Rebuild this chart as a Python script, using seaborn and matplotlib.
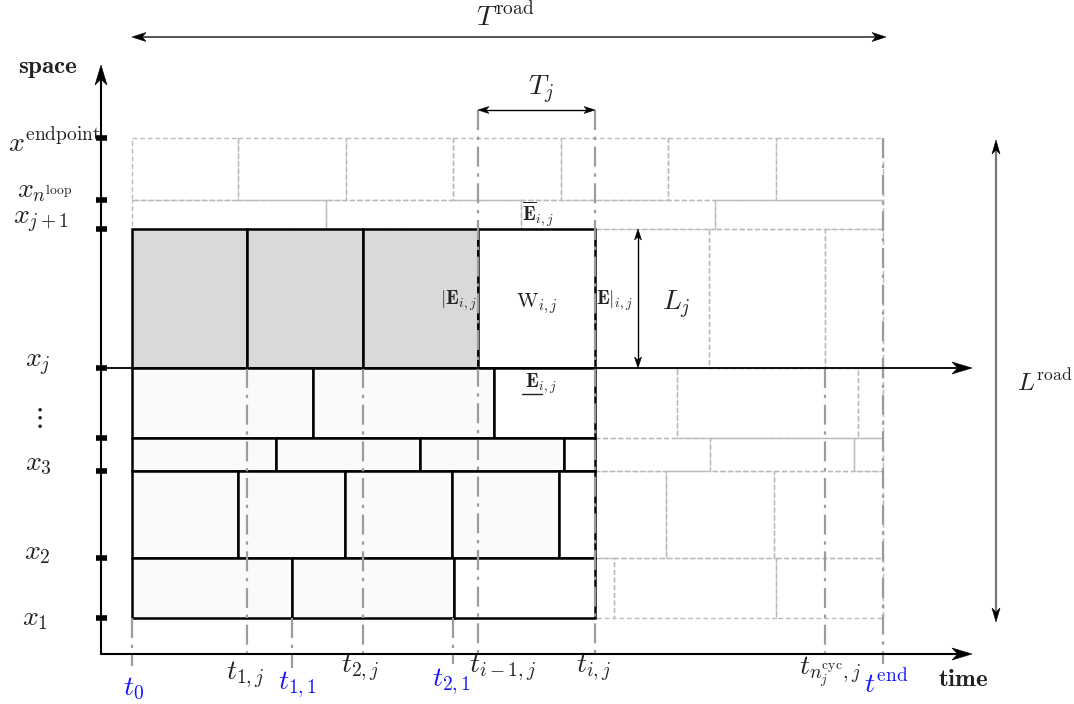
import matplotlib
matplotlib.use("Agg")
import matplotlib.pyplot as plt
from matplotlib.patches import Polygon
import numpy as np
import pandas as pd
import seaborn as sns

sns.set_theme(style="white")
plt.rcParams["mathtext.fontset"] = "cm"
plt.rcParams["font.family"] = ["DejaVu Serif"]

# ---------------------------------------------------------------- data
# space grid (screen units, growing downwards)
space_levels = [618, 558, 471, 438, 368, 229, 200, 138]
space_names = [r"$x_1$", r"$x_2$", r"$x_3$", "", r"$x_j$", r"$x_{j+1}$",
               r"$x_{n^{\mathrm{loop}}}$", r"$x^{\mathrm{endpoint}}$"]

# time instants marked on the time axis
time_names = [r"$t_0$", r"$t_{1,j}$", r"$t_{1,1}$", r"$t_{2,j}$", r"$t_{2,1}$",
              r"$t_{i-1,j}$", r"$t_{i,j}$", r"$t_{n_j^{\mathrm{cyc}},j}$", r"$t^{\mathrm{end}}$"]
time_values = [132, 247, 292, 363, 453, 478, 595, 825, 883]
time_global = [True, False, True, False, True, False, False, False, True]
# vertical extent of each time marker (top, bottom)
time_top = [618, 368, 618, 368, 618, 110, 110, 368, 138]
time_bottom = [666, 654, 668, 654, 664, 654, 654, 654, 664]

# already computed cells per road segment: (top, bottom, boundaries)
done_rows = [
    (229, 368, [132, 247, 363, 478, 595]),
    (368, 438, [132, 313, 494, 595]),
    (438, 471, [132, 276, 420, 564, 595]),
    (471, 558, [132, 238, 345, 452, 559, 595]),
    (558, 618, [132, 292, 454, 595]),
]
# number of leading cells that belong to the current window (shaded)
window_cells = [3, 0, 0, 0, 0]

# cells still to be scheduled
future_rows = [
    (138, 200, [132, 238, 346, 453, 561, 668, 776, 883]),
    (200, 229, [132, 326, 521, 715, 883]),
    (229, 368, [595, 709, 825, 883]),
    (368, 438, [595, 677, 858, 883]),
    (438, 471, [595, 710, 854, 883]),
    (471, 558, [595, 666, 774, 883]),
    (558, 618, [595, 614, 776, 883]),
]

# ---------------------------------------------------------------- figure
W, H = 1074, 704
fig = plt.figure(figsize=(W / 100, H / 100), dpi=100)
ax = fig.add_axes([0, 0, 1, 1])

INK = "#222222"
BLUE = "#1414ff"
GRID = "#bbbbbb"
MARK = "#9c9c9c"
FS = 20


def stealth(tip, direction, length=18, width=11, color="black", notch=0.72):
    d = np.asarray(direction, float)
    d /= np.hypot(*d)
    p = np.array([-d[1], d[0]])
    tip = np.asarray(tip, float)
    back = tip - d * length
    pts = [tip, back + p * width / 2, tip - d * length * notch, back - p * width / 2]
    ax.add_patch(Polygon(pts, closed=True, fc=color, ec=color, lw=0.4, zorder=6))


# future cells: light dashed outlines
for top, bottom, bounds in future_rows:
    ax.bar(bounds[:-1], bottom - top, width=np.diff(bounds), bottom=top, align="edge",
           color="none", edgecolor=GRID, linewidth=1.0, linestyle=(0, (3.5, 2)), zorder=1)

# computed cells: solid outlines
for (top, bottom, bounds), n_win in zip(done_rows, window_cells):
    n = len(bounds) - 1
    fills = []
    for k in range(n):
        if k < n_win:
            fills.append("#d9d9d9")
        elif k == n - 1:
            fills.append("white")
        else:
            fills.append("#fafafa")
    ax.bar(bounds[:-1], bottom - top, width=np.diff(bounds), bottom=top, align="edge",
           color=fills, edgecolor="black", linewidth=1.8, zorder=3)

# time markers (dash-dot)
marks = pd.DataFrame({
    "t": np.repeat(time_values, 2),
    "s": np.ravel(np.column_stack([time_top, time_bottom])),
    "mark": np.repeat(np.arange(len(time_values)), 2),
})
sns.lineplot(data=marks, x="t", y="s", units="mark", estimator=None, sort=False,
             color=MARK, linewidth=1.6, linestyle=(0, (9, 3, 1.5, 3)), ax=ax, zorder=4)

# axes
ax0x, ax0y = 101, 654
ax.plot([ax0x, ax0x], [ax0y, 80], color="black", lw=1.5, zorder=5)
stealth((ax0x, 65), (0, -1), length=20, width=12)
ax.plot([ax0x, 958], [ax0y, ax0y], color="black", lw=1.5, zorder=5)
stealth((972, ax0y), (1, 0), length=20, width=12)
ax.plot([ax0x, 958], [368, 368], color="black", lw=1.3, zorder=5)
stealth((972, 368), (1, 0), length=20, width=12)

# space ticks
for s in space_levels:
    ax.plot([96, 107], [s, s], color="black", lw=4, solid_capstyle="butt", zorder=6)

# space tick labels
space_label_pos = {0: (35, 618), 1: (37, 553), 2: (38, 464), 4: (38, 364),
                   5: (41, 221), 6: (45, 190), 7: (54, 143)}
for k, (x, y) in space_label_pos.items():
    ax.text(x, y, space_names[k], ha="center", va="center", fontsize=FS, color=INK, zorder=7)
ax.text(37, 418, r"$\vdots$", ha="center", va="center", fontsize=20, color=INK)

# time tick labels
time_label_pos = [(133, 689), (245, 675), (297, 685), (360, 668), (451, 682),
                  (502, 668), (594, 668), (830, 672), (886, 684)]
for name, glob, (x, y) in zip(time_names, time_global, time_label_pos):
    ax.text(x, y, name, ha="center", va="center", fontsize=FS,
            color=BLUE if glob else INK, zorder=7)

ax.text(48, 68, r"$\mathbf{space}$", ha="center", va="center", fontsize=18, color=INK)
ax.text(963, 680, r"$\mathbf{time}$", ha="center", va="center", fontsize=18, color=INK)

# horizon T^road
ax.plot([140, 878], [37, 37], color="#555555", lw=1.4, zorder=5)
stealth((132, 37), (-1, 0), length=14, width=9)
stealth((886, 37), (1, 0), length=14, width=9)
ax.text(505, 17, r"$T^{\mathrm{road}}$", ha="center", va="center", fontsize=FS, color=INK)

# cycle length T_j
ax.plot([484, 589], [110, 110], color="black", lw=1.0, zorder=5)
stealth((478, 110), (-1, 0), length=11, width=7)
stealth((595, 110), (1, 0), length=11, width=7)
ax.text(541, 90, r"$T_j$", ha="center", va="center", fontsize=FS, color=INK)

# road length L^road
ax.plot([996, 996], [150, 610], color="#777777", lw=1.6, zorder=5)
stealth((996, 140), (0, -1), length=14, width=8)
stealth((996, 622), (0, 1), length=14, width=8)
ax.text(1045, 382, r"$L^{\mathrm{road}}$", ha="center", va="center", fontsize=18, color=INK)

# segment length L_j
ax.plot([638, 638], [236, 361], color="black", lw=1.0, zorder=5)
stealth((638, 229), (0, -1), length=11, width=7)
stealth((638, 368), (0, 1), length=11, width=7)
ax.text(676, 305, r"$L_j$", ha="center", va="center", fontsize=FS, color=INK)

# cell annotations
ax.text(477, 301, r"$|\mathbf{E}_{i,j}$", ha="right", va="center", fontsize=14, color=INK, zorder=7)
ax.text(537, 304, r"$\mathrm{W}_{i,j}$", ha="center", va="center", fontsize=15, color=INK, zorder=7)
ax.text(596, 301, r"$\mathbf{E}|_{i,j}$", ha="left", va="center", fontsize=14, color=INK, zorder=7)
ax.text(538, 214, r"$\overline{\mathbf{E}}_{i,j}$", ha="center", va="center", fontsize=14, color=INK, zorder=7)
ax.text(541, 384, r"$\mathbf{E}_{i,j}$", ha="center", va="center", fontsize=14, color=INK, zorder=7)
ax.plot([522, 542], [394, 394], color=INK, lw=1.0, zorder=7)

ax.set_xlim(0, W)
ax.set_ylim(H, 0)
ax.axis("off")
fig.savefig("out.png", dpi=100, facecolor="white")
